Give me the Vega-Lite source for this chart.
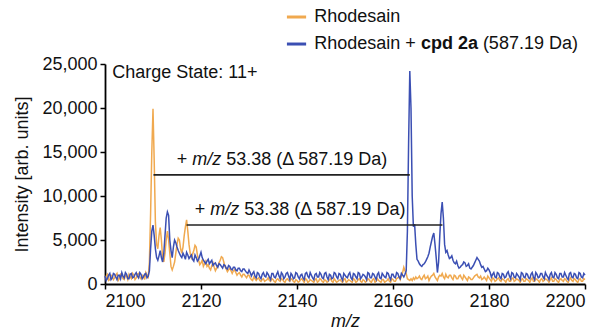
{
"$schema": "https://vega.github.io/schema/vega-lite/v6.json",
"width": 480, "height": 220,
"autosize": {"type": "none"},
"padding": {"left": 105, "top": 64, "right": 18, "bottom": 45},
"config": {"view": {"stroke": null}, "font": "Liberation Sans",
  "axis": {"domainColor": "#000", "domainWidth": 1.8, "tickColor": "#000", "tickWidth": 1.5, "tickSize": 5, "labelFont": "Liberation Sans", "labelFontSize": 18, "labelColor": "#111", "titleFont": "Liberation Sans", "titleFontSize": 18, "titleFontWeight": "normal", "titleColor": "#111", "grid": false, "labelPadding": 3}},
"datasets": {
"spec": [
{"mz":2100.0,"o":600,"b":900},{"mz":2100.5,"o":1100,"b":600},{"mz":2101.0,"o":500,"b":1200},{"mz":2101.5,"o":900,"b":700},{"mz":2102.0,"o":700,"b":1100},{"mz":2102.5,"o":1200,"b":500},{"mz":2103.0,"o":600,"b":1000},{"mz":2103.5,"o":1000,"b":1300},{"mz":2104.0,"o":500,"b":700},{"mz":2104.5,"o":900,"b":1100},{"mz":2105.0,"o":1100,"b":600},{"mz":2105.5,"o":600,"b":1200},{"mz":2106.0,"o":1000,"b":800},{"mz":2106.5,"o":700,"b":1300},{"mz":2107.0,"o":1200,"b":700},{"mz":2107.5,"o":600,"b":1100},{"mz":2108.0,"o":900,"b":800},{"mz":2108.5,"o":1300,"b":1200},{"mz":2109.0,"o":800,"b":900},
{"mz":2109.25,"o":2500,"b":1500},{"mz":2109.5,"o":8000,"b":4000},{"mz":2109.75,"o":15000,"b":6000},{"mz":2110.0,"o":19900,"b":6700},{"mz":2110.25,"o":14000,"b":5500},{"mz":2110.5,"o":7000,"b":4000},{"mz":2110.75,"o":4500,"b":3000},{"mz":2111.0,"o":4000,"b":2700},{"mz":2111.25,"o":5500,"b":3200},{"mz":2111.5,"o":6400,"b":3800},{"mz":2111.75,"o":5000,"b":3000},{"mz":2112.0,"o":3000,"b":2500},{"mz":2112.25,"o":2500,"b":3500},{"mz":2112.5,"o":3500,"b":5500},{"mz":2112.75,"o":5000,"b":7500},{"mz":2113.0,"o":6000,"b":8200},{"mz":2113.25,"o":5000,"b":7800},{"mz":2113.5,"o":3500,"b":5000},{"mz":2113.75,"o":2000,"b":3800},{"mz":2114.0,"o":1600,"b":3000},{"mz":2114.5,"o":2500,"b":5000},{"mz":2115.0,"o":4500,"b":4200},{"mz":2115.5,"o":5000,"b":3500},{"mz":2116.0,"o":3500,"b":3000},{"mz":2116.5,"o":5500,"b":3200},{"mz":2117.0,"o":7300,"b":3600},{"mz":2117.5,"o":4500,"b":2900},{"mz":2118.0,"o":3000,"b":3300},{"mz":2118.5,"o":3800,"b":2600},{"mz":2119.0,"o":4200,"b":3000},{"mz":2119.5,"o":2700,"b":2800},{"mz":2120.0,"o":2400,"b":3600},{"mz":2120.5,"o":2000,"b":2700},{"mz":2121.0,"o":2600,"b":2300},{"mz":2121.5,"o":2200,"b":2800},{"mz":2122.0,"o":1600,"b":2500},{"mz":2122.5,"o":2400,"b":2100},{"mz":2123.0,"o":1500,"b":2400},{"mz":2123.5,"o":2000,"b":1900},{"mz":2124.0,"o":2700,"b":2200},{"mz":2124.5,"o":3000,"b":1800},{"mz":2125.0,"o":2000,"b":2100},{"mz":2125.5,"o":1400,"b":1700},{"mz":2126.0,"o":1800,"b":2000},{"mz":2126.5,"o":1200,"b":1600},{"mz":2127.0,"o":1600,"b":1900},{"mz":2127.5,"o":1000,"b":1500},{"mz":2128.0,"o":1300,"b":1800},{"mz":2128.5,"o":800,"b":1400},{"mz":2129.0,"o":1100,"b":1700},{"mz":2129.5,"o":700,"b":1300},{"mz":2130.0,"o":1000,"b":1600},
{"mz":2130.5,"o":500,"b":900},{"mz":2131.0,"o":800,"b":1400},{"mz":2131.5,"o":400,"b":700},{"mz":2132.0,"o":700,"b":1200},{"mz":2132.5,"o":300,"b":600},{"mz":2133.0,"o":600,"b":1300},{"mz":2133.5,"o":400,"b":800},{"mz":2134.0,"o":700,"b":1100},{"mz":2134.5,"o":300,"b":500},{"mz":2135.0,"o":500,"b":1200},{"mz":2135.5,"o":200,"b":700},{"mz":2136.0,"o":600,"b":1400},{"mz":2136.5,"o":300,"b":600},{"mz":2137.0,"o":500,"b":1100},{"mz":2137.5,"o":200,"b":800},{"mz":2138.0,"o":600,"b":1300},{"mz":2138.5,"o":300,"b":500},{"mz":2139.0,"o":500,"b":1000},{"mz":2139.5,"o":200,"b":700},{"mz":2140.0,"o":400,"b":1200},{"mz":2140.5,"o":300,"b":600},{"mz":2141.0,"o":600,"b":1100},{"mz":2141.5,"o":200,"b":500},{"mz":2142.0,"o":500,"b":1300},{"mz":2142.5,"o":300,"b":700},{"mz":2143.0,"o":400,"b":1000},{"mz":2143.5,"o":200,"b":500},{"mz":2144.0,"o":600,"b":1200},{"mz":2144.5,"o":300,"b":800},{"mz":2145.0,"o":500,"b":1100},{"mz":2145.5,"o":200,"b":600},{"mz":2146.0,"o":400,"b":1300},{"mz":2146.5,"o":300,"b":500},{"mz":2147.0,"o":600,"b":1000},{"mz":2147.5,"o":200,"b":700},{"mz":2148.0,"o":400,"b":1200},{"mz":2148.5,"o":300,"b":600},{"mz":2149.0,"o":500,"b":1100},{"mz":2149.5,"o":200,"b":400},{"mz":2150.0,"o":600,"b":1000},{"mz":2150.5,"o":300,"b":700},{"mz":2151.0,"o":400,"b":1300},{"mz":2151.5,"o":200,"b":500},{"mz":2152.0,"o":500,"b":1100},{"mz":2152.5,"o":300,"b":600},{"mz":2153.0,"o":600,"b":1200},{"mz":2153.5,"o":200,"b":800},{"mz":2154.0,"o":400,"b":1000},{"mz":2154.5,"o":300,"b":500},{"mz":2155.0,"o":500,"b":1200},{"mz":2155.5,"o":200,"b":700},{"mz":2156.0,"o":600,"b":1100},{"mz":2156.5,"o":300,"b":500},{"mz":2157.0,"o":400,"b":1300},{"mz":2157.5,"o":200,"b":600},{"mz":2158.0,"o":500,"b":1000},{"mz":2158.5,"o":300,"b":700},{"mz":2159.0,"o":600,"b":1200},{"mz":2159.5,"o":200,"b":500},{"mz":2160.0,"o":500,"b":1100},{"mz":2160.5,"o":300,"b":700},{"mz":2161.0,"o":700,"b":1200},{"mz":2161.5,"o":500,"b":600},{"mz":2162.0,"o":1300,"b":1000},{"mz":2162.25,"o":1900,"b":800},{"mz":2162.5,"o":1500,"b":1100},
{"mz":2162.75,"o":1200,"b":1500},{"mz":2163.0,"o":600,"b":6000},{"mz":2163.25,"o":500,"b":16000},{"mz":2163.5,"o":400,"b":24200},{"mz":2163.75,"o":600,"b":20000},{"mz":2164.0,"o":400,"b":10000},{"mz":2164.25,"o":700,"b":6500},{"mz":2164.5,"o":500,"b":6800},{"mz":2164.75,"o":800,"b":4500},{"mz":2165.0,"o":600,"b":2800},{"mz":2165.5,"o":900,"b":2300},{"mz":2166.0,"o":500,"b":2000},{"mz":2166.5,"o":1000,"b":2300},{"mz":2167.0,"o":700,"b":2800},{"mz":2167.5,"o":400,"b":3500},{"mz":2168.0,"o":900,"b":4800},{"mz":2168.5,"o":1200,"b":5800},{"mz":2169.0,"o":600,"b":3000},{"mz":2169.25,"o":400,"b":1300},{"mz":2169.5,"o":800,"b":2500},{"mz":2169.75,"o":1000,"b":5500},{"mz":2170.0,"o":900,"b":8000},{"mz":2170.25,"o":1200,"b":9300},{"mz":2170.5,"o":800,"b":7500},{"mz":2170.75,"o":600,"b":4500},{"mz":2171.0,"o":1100,"b":3600},{"mz":2171.5,"o":700,"b":3300},{"mz":2172.0,"o":1000,"b":3000},{"mz":2172.5,"o":500,"b":2700},{"mz":2173.0,"o":900,"b":2300},{"mz":2173.5,"o":600,"b":2100},{"mz":2174.0,"o":1000,"b":1900},{"mz":2174.5,"o":500,"b":2200},{"mz":2175.0,"o":800,"b":2400},{"mz":2175.5,"o":400,"b":2100},{"mz":2176.0,"o":700,"b":1800},{"mz":2176.5,"o":500,"b":1900},{"mz":2177.0,"o":900,"b":2400},{"mz":2177.5,"o":1100,"b":3000},{"mz":2178.0,"o":700,"b":2600},{"mz":2178.5,"o":500,"b":1900},{"mz":2179.0,"o":800,"b":1700},{"mz":2179.5,"o":400,"b":1500},{"mz":2180.0,"o":700,"b":1600},
{"mz":2180.5,"o":300,"b":800},{"mz":2181.0,"o":600,"b":1300},{"mz":2181.5,"o":400,"b":700},{"mz":2182.0,"o":700,"b":1200},{"mz":2182.5,"o":300,"b":600},{"mz":2183.0,"o":500,"b":1100},{"mz":2183.5,"o":200,"b":800},{"mz":2184.0,"o":600,"b":1400},{"mz":2184.5,"o":300,"b":600},{"mz":2185.0,"o":700,"b":1200},{"mz":2185.5,"o":400,"b":700},{"mz":2186.0,"o":500,"b":1000},{"mz":2186.5,"o":200,"b":500},{"mz":2187.0,"o":600,"b":1200},{"mz":2187.5,"o":300,"b":700},{"mz":2188.0,"o":500,"b":1100},{"mz":2188.5,"o":200,"b":600},{"mz":2189.0,"o":700,"b":1300},{"mz":2189.5,"o":300,"b":500},{"mz":2190.0,"o":500,"b":1100},{"mz":2190.5,"o":200,"b":800},{"mz":2191.0,"o":600,"b":1200},{"mz":2191.5,"o":400,"b":600},{"mz":2192.0,"o":500,"b":1000},{"mz":2192.5,"o":200,"b":500},{"mz":2193.0,"o":700,"b":1300},{"mz":2193.5,"o":300,"b":700},{"mz":2194.0,"o":500,"b":1100},{"mz":2194.5,"o":200,"b":600},{"mz":2195.0,"o":600,"b":1200},{"mz":2195.5,"o":300,"b":800},{"mz":2196.0,"o":500,"b":1000},{"mz":2196.5,"o":200,"b":500},{"mz":2197.0,"o":700,"b":1300},{"mz":2197.5,"o":300,"b":700},{"mz":2198.0,"o":500,"b":1100},{"mz":2198.5,"o":200,"b":600},{"mz":2199.0,"o":600,"b":1200},{"mz":2199.5,"o":300,"b":700},{"mz":2200.0,"o":500,"b":1000},
{"mz":2100.25,"o":900,"b":400},{"mz":2100.75,"o":400,"b":1000},{"mz":2101.25,"o":1000,"b":500},{"mz":2101.75,"o":500,"b":1200},{"mz":2102.25,"o":1000,"b":800},{"mz":2102.75,"o":400,"b":1000},{"mz":2103.25,"o":1100,"b":600},{"mz":2103.75,"o":600,"b":900},{"mz":2104.25,"o":1000,"b":1300},{"mz":2104.75,"o":500,"b":600},{"mz":2105.25,"o":800,"b":1100},{"mz":2105.75,"o":1200,"b":700},{"mz":2106.25,"o":500,"b":1100},{"mz":2106.75,"o":1100,"b":900},{"mz":2107.25,"o":800,"b":1300},{"mz":2107.75,"o":1000,"b":600},{"mz":2108.25,"o":500,"b":1100},{"mz":2108.75,"o":1000,"b":700},
{"mz":2114.25,"o":2000,"b":4200},{"mz":2114.75,"o":3500,"b":4700},{"mz":2115.25,"o":5200,"b":3800},{"mz":2115.75,"o":4000,"b":3200},{"mz":2116.25,"o":4200,"b":3500},{"mz":2116.75,"o":6500,"b":2800},{"mz":2117.25,"o":6000,"b":3300},{"mz":2117.75,"o":3500,"b":3100},{"mz":2118.25,"o":3400,"b":2800},{"mz":2118.75,"o":4400,"b":3300},{"mz":2119.25,"o":3300,"b":2600},{"mz":2119.75,"o":2200,"b":3200},{"mz":2120.25,"o":2700,"b":3000},{"mz":2120.75,"o":2300,"b":2500},{"mz":2121.25,"o":2000,"b":2600},{"mz":2121.75,"o":1800,"b":2300},{"mz":2122.25,"o":2100,"b":2700},{"mz":2122.75,"o":1900,"b":2300},{"mz":2123.25,"o":1800,"b":2100},{"mz":2123.75,"o":2400,"b":2300},{"mz":2124.25,"o":3100,"b":2000},{"mz":2124.75,"o":2500,"b":2200},{"mz":2125.25,"o":1700,"b":1800},{"mz":2125.75,"o":1600,"b":2100},{"mz":2126.25,"o":1500,"b":1700},{"mz":2126.75,"o":1500,"b":1900},{"mz":2127.25,"o":1300,"b":1600},{"mz":2127.75,"o":1200,"b":1800},{"mz":2128.25,"o":1000,"b":1500},{"mz":2128.75,"o":1100,"b":1700},{"mz":2129.25,"o":900,"b":1500},{"mz":2129.75,"o":1000,"b":1200},
{"mz":2130.25,"o":700,"b":1300},{"mz":2130.75,"o":400,"b":1200},{"mz":2131.25,"o":600,"b":900},{"mz":2131.75,"o":600,"b":1300},{"mz":2132.25,"o":400,"b":800},{"mz":2132.75,"o":500,"b":1100},{"mz":2133.25,"o":300,"b":900},{"mz":2133.75,"o":500,"b":1300},{"mz":2134.25,"o":400,"b":800},{"mz":2134.75,"o":600,"b":1200},{"mz":2135.25,"o":300,"b":800},{"mz":2135.75,"o":500,"b":1100},{"mz":2136.25,"o":400,"b":900},{"mz":2136.75,"o":600,"b":1300},{"mz":2137.25,"o":300,"b":600},{"mz":2137.75,"o":500,"b":1200},{"mz":2138.25,"o":400,"b":900},{"mz":2138.75,"o":600,"b":1200},{"mz":2139.25,"o":300,"b":600},{"mz":2139.75,"o":500,"b":1300},{"mz":2140.25,"o":200,"b":800},{"mz":2140.75,"o":500,"b":1000},{"mz":2141.25,"o":400,"b":700},{"mz":2141.75,"o":600,"b":1200},{"mz":2142.25,"o":200,"b":900},{"mz":2142.75,"o":500,"b":1300},{"mz":2143.25,"o":300,"b":700},{"mz":2143.75,"o":500,"b":1100},{"mz":2144.25,"o":200,"b":800},{"mz":2144.75,"o":600,"b":1300},{"mz":2145.25,"o":300,"b":700},{"mz":2145.75,"o":500,"b":1200},{"mz":2146.25,"o":200,"b":800},{"mz":2146.75,"o":500,"b":1100},{"mz":2147.25,"o":300,"b":600},{"mz":2147.75,"o":600,"b":1300},{"mz":2148.25,"o":200,"b":800},{"mz":2148.75,"o":400,"b":1200},{"mz":2149.25,"o":300,"b":700},{"mz":2149.75,"o":500,"b":1200},{"mz":2150.25,"o":200,"b":800},{"mz":2150.75,"o":500,"b":1100},{"mz":2151.25,"o":300,"b":700},{"mz":2151.75,"o":600,"b":1200},{"mz":2152.25,"o":200,"b":800},{"mz":2152.75,"o":500,"b":1300},{"mz":2153.25,"o":300,"b":600},{"mz":2153.75,"o":500,"b":1100},{"mz":2154.25,"o":200,"b":800},{"mz":2154.75,"o":600,"b":1300},{"mz":2155.25,"o":300,"b":700},{"mz":2155.75,"o":500,"b":1200},{"mz":2156.25,"o":200,"b":800},{"mz":2156.75,"o":600,"b":1100},{"mz":2157.25,"o":300,"b":700},{"mz":2157.75,"o":500,"b":1200},{"mz":2158.25,"o":200,"b":800},{"mz":2158.75,"o":400,"b":1300},{"mz":2159.25,"o":300,"b":800},{"mz":2159.75,"o":600,"b":1100},{"mz":2160.25,"o":300,"b":800},{"mz":2160.75,"o":600,"b":1300},{"mz":2161.25,"o":800,"b":800},{"mz":2161.75,"o":900,"b":1200},
{"mz":2165.25,"o":700,"b":2600},{"mz":2165.75,"o":600,"b":2100},{"mz":2166.25,"o":800,"b":2200},{"mz":2166.75,"o":600,"b":2500},{"mz":2167.25,"o":900,"b":3100},{"mz":2167.75,"o":700,"b":4200},{"mz":2168.25,"o":1000,"b":5400},{"mz":2168.75,"o":800,"b":4500},
{"mz":2171.25,"o":800,"b":3800},{"mz":2171.75,"o":1000,"b":2900},{"mz":2172.25,"o":700,"b":3200},{"mz":2172.75,"o":1000,"b":2400},{"mz":2173.25,"o":600,"b":2600},{"mz":2173.75,"o":900,"b":1800},{"mz":2174.25,"o":700,"b":2100},{"mz":2174.75,"o":1000,"b":2500},{"mz":2175.25,"o":600,"b":2000},{"mz":2175.75,"o":800,"b":2300},{"mz":2176.25,"o":500,"b":1700},{"mz":2176.75,"o":700,"b":2100},{"mz":2177.25,"o":1000,"b":2700},{"mz":2177.75,"o":800,"b":2800},{"mz":2178.25,"o":900,"b":2200},{"mz":2178.75,"o":600,"b":2000},{"mz":2179.25,"o":600,"b":1400},{"mz":2179.75,"o":900,"b":1800},
{"mz":2180.25,"o":500,"b":1300},{"mz":2180.75,"o":700,"b":1100},{"mz":2181.25,"o":300,"b":800},{"mz":2181.75,"o":600,"b":1300},{"mz":2182.25,"o":400,"b":800},{"mz":2182.75,"o":600,"b":1200},{"mz":2183.25,"o":400,"b":700},{"mz":2183.75,"o":500,"b":1200},{"mz":2184.25,"o":300,"b":900},{"mz":2184.75,"o":600,"b":1300},{"mz":2185.25,"o":300,"b":800},{"mz":2185.75,"o":600,"b":1200},{"mz":2186.25,"o":400,"b":800},{"mz":2186.75,"o":500,"b":1300},{"mz":2187.25,"o":300,"b":800},{"mz":2187.75,"o":600,"b":1200},{"mz":2188.25,"o":400,"b":700},{"mz":2188.75,"o":500,"b":1100},{"mz":2189.25,"o":300,"b":800},{"mz":2189.75,"o":600,"b":1300},{"mz":2190.25,"o":400,"b":700},{"mz":2190.75,"o":500,"b":1200},{"mz":2191.25,"o":300,"b":800},{"mz":2191.75,"o":600,"b":1300},{"mz":2192.25,"o":400,"b":800},{"mz":2192.75,"o":500,"b":1100},{"mz":2193.25,"o":300,"b":800},{"mz":2193.75,"o":600,"b":1300},{"mz":2194.25,"o":300,"b":700},{"mz":2194.75,"o":500,"b":1200},{"mz":2195.25,"o":400,"b":800},{"mz":2195.75,"o":600,"b":1300},{"mz":2196.25,"o":300,"b":700},{"mz":2196.75,"o":500,"b":1200},{"mz":2197.25,"o":400,"b":800},{"mz":2197.75,"o":600,"b":1200},{"mz":2198.25,"o":300,"b":700},{"mz":2198.75,"o":500,"b":1300},{"mz":2199.25,"o":300,"b":800},{"mz":2199.75,"o":600,"b":1200}
],
"ann": [{"x":2110.1,"x2":2163.5,"y":12400},{"x":2117.0,"x2":2170.3,"y":6700}],
"annText": [{"x":2124.2,"y":14100},{"x":2127.97,"y":8400}],
"leg": [{"x":2137.9,"x2":2141.9,"y":30340,"s":"Rhodesain"},{"x":2137.9,"x2":2141.9,"y":27270,"s":"Rhodesain + cpd 2a (587.19 Da)"}]
},
"layer": [
{"data": {"name": "spec"}, "mark": {"type": "line", "color": "#F0A94F", "strokeWidth": 1.5},
 "encoding": {
  "x": {"field": "mz", "type": "quantitative", "scale": {"domain": [2100, 2200], "nice": false},
        "axis": {"values": [2100, 2120, 2140, 2160, 2180, 2200], "format": "d", "title": "m/z", "titleFontStyle": "italic", "titlePadding": 2}},
  "y": {"field": "o", "type": "quantitative", "scale": {"domain": [0, 25000], "nice": false},
        "axis": {"values": [0,2500,5000,7500,10000,12500,15000,17500,20000,22500,25000], "labelExpr": "datum.value % 5000 === 0 ? format(datum.value, ',') : ''", "title": "Intensity [arb. units]", "titlePadding": 10}}
 }},
{"data": {"name": "spec"}, "mark": {"type": "line", "color": "#3B4FB3", "strokeWidth": 1.5},
 "encoding": {"x": {"field": "mz", "type": "quantitative"}, "y": {"field": "b", "type": "quantitative"}}},
{"data": {"name": "ann"}, "mark": {"type": "rule", "color": "#222", "strokeWidth": 1.6},
 "encoding": {"x": {"field": "x", "type": "quantitative"}, "x2": {"field": "x2"}, "y": {"field": "y", "type": "quantitative"}}},
{"data": {"name": "annText"}, "mark": {"type": "text", "text": "+", "align": "right", "baseline": "middle", "dx": -34, "fontSize": 18, "color": "#111"},
 "encoding": {"x": {"field": "x", "type": "quantitative"}, "y": {"field": "y", "type": "quantitative"}}},
{"data": {"name": "annText"}, "mark": {"type": "text", "text": "m/z", "align": "right", "baseline": "middle", "fontStyle": "italic", "fontSize": 18, "color": "#111"},
 "encoding": {"x": {"field": "x", "type": "quantitative"}, "y": {"field": "y", "type": "quantitative"}}},
{"data": {"name": "annText"}, "mark": {"type": "text", "text": "53.38 (Δ 587.19 Da)", "align": "left", "baseline": "middle", "dx": 5, "fontSize": 18, "color": "#111"},
 "encoding": {"x": {"field": "x", "type": "quantitative"}, "y": {"field": "y", "type": "quantitative"}}},
{"data": {"values": [{"x": 2101.5, "y": 23980, "t": "Charge State: 11+"}]}, "mark": {"type": "text", "align": "left", "baseline": "middle", "fontSize": 18, "color": "#111"},
 "encoding": {"x": {"field": "x", "type": "quantitative"}, "y": {"field": "y", "type": "quantitative"}, "text": {"field": "t"}}},
{"data": {"name": "leg"}, "mark": {"type": "rule", "strokeWidth": 3},
 "encoding": {"x": {"field": "x", "type": "quantitative"}, "x2": {"field": "x2"}, "y": {"field": "y", "type": "quantitative"},
   "color": {"field": "s", "type": "nominal", "scale": {"domain": ["Rhodesain", "Rhodesain + cpd 2a (587.19 Da)"], "range": ["#F0A94F", "#3B4FB3"]}, "legend": null}}},
{"data": {"values": [{"x": 2143.6, "y": 30340, "t": "Rhodesain"}, {"x": 2143.6, "y": 27270, "t": "Rhodesain +"}]}, "mark": {"type": "text", "align": "left", "baseline": "middle", "fontSize": 18, "color": "#111"},
 "encoding": {"x": {"field": "x", "type": "quantitative"}, "y": {"field": "y", "type": "quantitative"}, "text": {"field": "t"}}},
{"data": {"values": [{"x": 2143.6, "y": 27270, "t": "cpd 2a"}]}, "mark": {"type": "text", "align": "left", "baseline": "middle", "dx": 106.6, "fontWeight": "bold", "fontSize": 18, "color": "#111"},
 "encoding": {"x": {"field": "x", "type": "quantitative"}, "y": {"field": "y", "type": "quantitative"}, "text": {"field": "t"}}},
{"data": {"values": [{"x": 2143.6, "y": 27270, "t": "(587.19 Da)"}]}, "mark": {"type": "text", "align": "left", "baseline": "middle", "dx": 168.6, "fontSize": 18, "color": "#111"},
 "encoding": {"x": {"field": "x", "type": "quantitative"}, "y": {"field": "y", "type": "quantitative"}, "text": {"field": "t"}}}
]
}
